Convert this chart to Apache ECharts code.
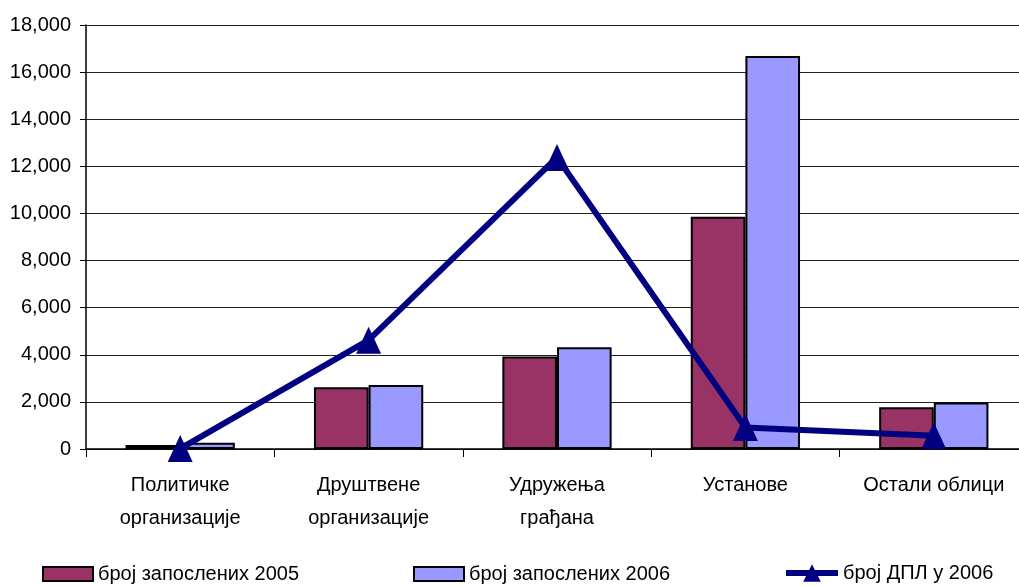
<!DOCTYPE html>
<html><head><meta charset="utf-8">
<script src="https://cdn.jsdelivr.net/npm/echarts@6/dist/echarts.min.js"></script>
<style>html,body{margin:0;padding:0;background:#fff;overflow:hidden}#c{width:1030px;height:586px}</style>
</head><body><div id="c"></div>
<script>
const categories = ['Политичке\nорганизације', 'Друштвене\nорганизације', 'Удружења\nграђана', 'Установе', 'Остали облици'];
const employed2005 = [170, 2620, 3930, 9860, 1770];
const employed2006 = [270, 2720, 4320, 16680, 1970];
const dplCount2006 = [20, 4620, 12380, 910, 560];
const seriesNames = ['број запослених 2005', 'број запослених 2006', 'број ДПЛ у 2006'];
const yTicks = { min: 0, max: 18000, interval: 2000 };

const font = 'Liberation Sans, Arial, sans-serif';
const chart = echarts.init(document.getElementById('c'), null, { renderer: 'canvas' });
const legendText = { fontFamily: font, fontSize: 20, color: '#000' };
chart.setOption({
  animation: false,
  backgroundColor: '#fff',
  grid: { left: 86, top: 25, right: 2, bottom: 137, containLabel: false },
  legend: [
    { data: [seriesNames[0]], icon: 'rect', left: 42, top: 564, itemWidth: 50, itemHeight: 14, itemGap: 6, textStyle: legendText, padding: 0,
      itemStyle: { borderColor: '#000', borderWidth: 2 } },
    { data: [seriesNames[1]], icon: 'rect', left: 413, top: 564, itemWidth: 50, itemHeight: 14, itemGap: 6, textStyle: legendText, padding: 0,
      itemStyle: { borderColor: '#000', borderWidth: 2 } },
    { data: [seriesNames[2]], left: 783, top: 563, itemWidth: 52, itemHeight: 22, itemGap: 3, textStyle: legendText, padding: 0,
      lineStyle: { width: 6, color: '#000080' } }
  ],
  xAxis: {
    type: 'category',
    data: categories,
    boundaryGap: true,
    axisLine: { lineStyle: { color: '#000', width: 1.5 } },
    axisTick: { show: true, alignWithLabel: false, interval: 0, length: 8, lineStyle: { color: '#000' } },
    axisLabel: { interval: 0, fontFamily: font, fontSize: 20, color: '#000', margin: 20, lineHeight: 33 }
  },
  yAxis: {
    type: 'value',
    min: yTicks.min, max: yTicks.max, interval: yTicks.interval,
    axisLine: { show: true, lineStyle: { color: '#000', width: 1.5 } },
    axisTick: { show: true, length: 6, lineStyle: { color: '#000' } },
    splitLine: { lineStyle: { color: '#222', width: 1 } },
    axisLabel: {
      fontFamily: font, fontSize: 20, color: '#000', margin: 15,
      formatter: v => v.toLocaleString('en-US')
    }
  },
  series: [
    { name: seriesNames[0], type: 'bar', data: employed2005, barGap: '0%', barCategoryGap: '42%',
      itemStyle: { color: '#993366', borderColor: '#000', borderWidth: 2 } },
    { name: seriesNames[1], type: 'bar', data: employed2006, barGap: '0%', barCategoryGap: '42%',
      itemStyle: { color: '#9999FF', borderColor: '#000', borderWidth: 2 } },
    { name: seriesNames[2], type: 'line', data: dplCount2006, symbol: 'triangle', symbolSize: [25, 27],
      lineStyle: { color: '#000080', width: 6 }, itemStyle: { color: '#000080' }, z: 5 }
  ]
});
</script></body></html>
